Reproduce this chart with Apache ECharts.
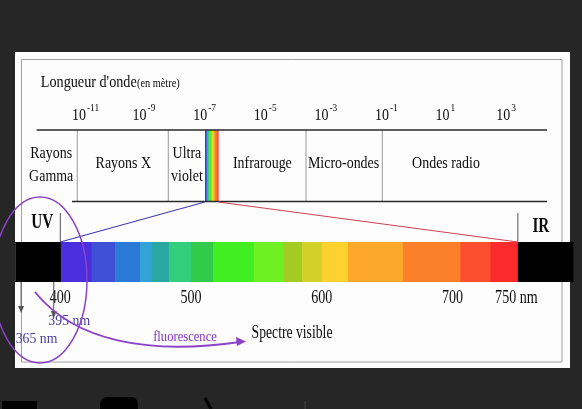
<!DOCTYPE html>
<html><head><meta charset="utf-8">
<script src="https://cdn.jsdelivr.net/npm/echarts@6/dist/echarts.min.js"></script>
<style>html,body{margin:0;padding:0;background:#262626}#c{width:582px;height:409px}</style>
</head><body><div id="c"></div>
<script>
// ---------- data ----------
// visible spectrum (nm): band edges and colours
const visibleEdges = [400, 424, 442, 461, 470, 483, 500, 517, 548, 571, 585, 600, 620, 662, 706, 729, 750];
const bandColors = ['#4b2fdf', '#4050d6', '#2a7bd8', '#33a3d6', '#29a7a2', '#31cf7b', '#33c94a', '#41ee22',
  '#6ef022', '#a4cb22', '#d2d12a', '#fdd12e', '#fca82a', '#fc7f2a', '#fc4f2f', '#fb2a2c'];
const outsideBands = [[365.5, 400], [750, 792]];       // UV / IR (black)
const spectrumTicks = [400, 500, 600, 700, 750];
const markerValues = [400, 750];
const markerNames = ['UV', 'IR'];
const arrowValues = [370, 395];
const arrowNames = ['365 nm', '395 nm'];

// electromagnetic spectrum (log10 of wavelength in metres)
const exponentTicks = [-11, -9, -7, -5, -3, -1, 1, 3];
const regionNames = ['Rayons\nGamma', 'Rayons X', 'Ultra\nviolet', 'Infrarouge', 'Micro-ondes', 'Ondes radio'];
const regionLabelPos = [-12.05, -9.67, -7.57, -5.08, -2.40, 0.98];
const regionBounds = [-11.19, -8.185, -3.64, -1.122];
const visibleRange = [-6.974, -6.535];
const scaleLines = [[-12.53, 4.314, 1], [-11.363, 4.314, 0]];

// ---------- helpers ----------
const SERIF = '"Liberation Serif","Times New Roman",serif';
const INK = '#0c0c0c';
function T(x, y, text, size, opt) {
  opt = opt || {};
  return {
    type: 'text', x: x, y: y, scaleX: opt.sx || 0.82, z: opt.z || 20,
    style: {
      text: text, fontFamily: SERIF, fontSize: size, fontWeight: opt.bold ? 'bold' : 'normal',
      fill: opt.fill || INK, align: opt.align || 'center', verticalAlign: 'middle',
      lineHeight: opt.lh || size
    }
  };
}
function lam2exp(l) {
  return visibleRange[0] + (l - 400) / 350 * (visibleRange[1] - visibleRange[0]);
}

const bandData = [];
for (let i = 0; i < bandColors.length; i++) bandData.push([visibleEdges[i], visibleEdges[i + 1], i]);
outsideBands.forEach(b => bandData.push([b[0], b[1], -1]));
const stripData = [];
for (let i = 0; i < bandColors.length; i++) stripData.push([lam2exp(visibleEdges[i]), lam2exp(visibleEdges[i + 1]), i]);

const chart = echarts.init(document.getElementById('c'), null, {renderer: 'canvas'});

const option = {
  backgroundColor: '#262626',
  animation: false,
  grid: [
    {left: 22.4, right: 14.2, top: 130, height: 71.5},
    {left: 8, right: 4, top: 242, height: 40}
  ],
  xAxis: [
    {type: 'value', gridIndex: 0, min: -13, max: 5, show: false},
    {type: 'value', gridIndex: 1, min: 360, max: 796, show: false}
  ],
  yAxis: [
    {type: 'value', gridIndex: 0, min: 0, max: 1, show: false},
    {type: 'value', gridIndex: 1, min: 0, max: 1, show: false}
  ],
  series: [
    { // visible spectrum + black UV/IR bands
      type: 'custom', xAxisIndex: 1, yAxisIndex: 1, silent: true, z: 5,
      data: bandData,
      renderItem(p, api) {
        const a = api.coord([api.value(0), 1]), b = api.coord([api.value(1), 0]);
        const ci = api.value(2);
        return {type: 'rect', shape: {x: a[0], y: a[1], width: b[0] - a[0] + 0.6, height: b[1] - a[1]},
          style: {fill: ci < 0 ? '#000' : bandColors[ci]}};
      }
    },
    { // region separators
      type: 'custom', xAxisIndex: 0, yAxisIndex: 0, silent: true, z: 4,
      data: regionBounds.map(v => [v]),
      renderItem(p, api) {
        const a = api.coord([api.value(0), 1]), b = api.coord([api.value(0), 0]);
        return {type: 'line', shape: {x1: a[0], y1: a[1], x2: b[0], y2: b[1]}, style: {stroke: '#9a9a9a', lineWidth: 1}};
      }
    },
    { // mini rainbow strip on the EM scale
      type: 'custom', xAxisIndex: 0, yAxisIndex: 0, silent: true, z: 5,
      data: stripData,
      renderItem(p, api) {
        const a = api.coord([api.value(0), 1]), b = api.coord([api.value(1), 0]);
        return {type: 'rect', shape: {x: a[0], y: a[1], width: b[0] - a[0] + 0.3, height: b[1] - a[1]},
          style: {fill: bandColors[api.value(2)]}};
      }
    },
    { // horizontal scale lines
      type: 'custom', xAxisIndex: 0, yAxisIndex: 0, silent: true, z: 6,
      data: scaleLines,
      renderItem(p, api) {
        const a = api.coord([api.value(0), api.value(2)]), b = api.coord([api.value(1), api.value(2)]);
        return {type: 'line', shape: {x1: a[0], y1: a[1], x2: b[0], y2: b[1]}, style: {stroke: '#2a2a2a', lineWidth: 1.6}};
      }
    },
    { // exponent labels 10^n
      type: 'custom', xAxisIndex: 0, yAxisIndex: 0, silent: true, z: 6,
      data: exponentTicks.map(v => [v]),
      renderItem(p, api) {
        const v = api.value(0), x = api.coord([v, 0])[0];
        return {type: 'group', children: [
          T(x + 3, 115, '10', 17.5, {align: 'right', sx: 0.8}),
          T(x + 4, 108, String(v), 11, {align: 'left', sx: 0.85})
        ]};
      }
    },
    { // region names
      type: 'custom', xAxisIndex: 0, yAxisIndex: 0, silent: true, z: 6,
      data: regionLabelPos.map((v, i) => [v, i]),
      renderItem(p, api) {
        const name = regionNames[api.value(1)], x = api.coord([api.value(0), 0])[0];
        const two = name.indexOf('\n') >= 0;
        return T(x, two ? 165 : 163.5, name, 17, {lh: 23.5, sx: 0.82});
      }
    },
    { // spectrum tick labels
      type: 'custom', xAxisIndex: 1, yAxisIndex: 1, silent: true, z: 6,
      data: spectrumTicks.map(v => [v]),
      renderItem(p, api) {
        const v = api.value(0), x = api.coord([v, 0])[0];
        return T(x - (v === 750 ? 1.5 : 0), 298.5, v === 750 ? '750 nm' : String(v), 18, {sx: 0.78});
      }
    },
    { // UV / IR markers
      type: 'custom', xAxisIndex: 1, yAxisIndex: 1, silent: true, z: 6,
      data: markerValues.map((v, i) => [v, i]),
      renderItem(p, api) {
        const i = api.value(1), x = api.coord([api.value(0), 1])[0];
        return {type: 'group', children: [
          {type: 'line', shape: {x1: x, y1: 213, x2: x, y2: 242}, style: {stroke: '#555', lineWidth: 1}},
          T(i === 0 ? x - 18 : x + 23, i === 0 ? 223 : 226.5, markerNames[i], 20, {bold: true, sx: 0.76})
        ]};
      }
    },
    { // 365 / 395 nm arrows
      type: 'custom', xAxisIndex: 1, yAxisIndex: 1, silent: true, z: 6,
      data: arrowValues.map((v, i) => [v, i]),
      renderItem(p, api) {
        const i = api.value(1), x = api.coord([api.value(0), 0])[0];
        const tip = i === 0 ? 313 : 318;
        return {type: 'group', children: [
          {type: 'line', shape: {x1: x, y1: 282, x2: x, y2: tip - 5}, style: {stroke: '#555', lineWidth: 1}},
          {type: 'polygon', shape: {points: [[x - 3, tip - 7], [x + 3, tip - 7], [x, tip]]}, style: {fill: '#555'}},
          T(x + 15.5, i === 0 ? 339 : 321, arrowNames[i], 15, {fill: '#4a3c9c', sx: 0.92})
        ]};
      }
    }
  ]
};
chart.setOption(option);

// connecting lines between the two scales (through the axes)
const xa0 = chart.convertToPixel({xAxisIndex: 0}, visibleRange[0]);
const xa1 = chart.convertToPixel({xAxisIndex: 0}, visibleRange[1]);
const xb0 = chart.convertToPixel({xAxisIndex: 1}, visibleEdges[0]);
const xb1 = chart.convertToPixel({xAxisIndex: 1}, visibleEdges[visibleEdges.length - 1]);

chart.setOption({
  graphic: {elements: [
    {type: 'rect', z: -5, shape: {x: 15, y: 52, width: 555, height: 316}, style: {fill: '#fdfdfd'}},
    {type: 'rect', z: -4, shape: {x: 21.5, y: 59.5, width: 540.5, height: 302.5}, style: {fill: 'none', stroke: '#a0a0a0', lineWidth: 1}},
    T(40.8, 82.6, "Longueur d'onde", 16.5, {align: 'left', sx: 0.86}),
    T(137, 84.3, '(en mètre)', 12, {align: 'left', sx: 0.86}),
    {type: 'line', z: 15, shape: {x1: xa0, y1: 202, x2: xb0, y2: 242}, style: {stroke: '#4040b0', lineWidth: 1.2}},
    {type: 'line', z: 15, shape: {x1: xa1, y1: 202, x2: xb1, y2: 242}, style: {stroke: '#cc4455', lineWidth: 1.2}},
    T(292, 333, 'Spectre visible', 18, {sx: 0.76}),
    T(185, 337.5, 'fluorescence', 15, {fill: '#8432c4', sx: 0.84}),
    {type: 'ellipse', z: 25, shape: {cx: 40, cy: 280, rx: 47, ry: 83}, style: {fill: 'none', stroke: '#8a42c8', lineWidth: 1.5}},
    {type: 'bezierCurve', z: 25, shape: {x1: 35, y1: 292, cpx1: 75, cpy1: 342, cpx2: 150, cpy2: 355, x2: 240, y2: 342},
      style: {fill: 'none', stroke: '#8a42c8', lineWidth: 1.8}},
    {type: 'polygon', z: 25, shape: {points: [[246, 341.5], [236, 337], [237, 346]]}, style: {fill: '#8a42c8'}},
    // partial shapes of the next slide at the bottom edge
    {type: 'rect', z: 1, shape: {x: 2, y: 401, width: 35, height: 8}, style: {fill: '#000'}},
    {type: 'rect', z: 1, shape: {x: 100, y: 397, width: 38, height: 12, r: [7, 7, 0, 0]}, style: {fill: '#000'}},
    {type: 'line', z: 1, shape: {x1: 205, y1: 398, x2: 211, y2: 409}, style: {stroke: '#000', lineWidth: 3}},
    {type: 'line', z: 1, shape: {x1: 305, y1: 401, x2: 305, y2: 409}, style: {stroke: '#444', lineWidth: 1}}
  ]}
});
</script>
</body></html>
